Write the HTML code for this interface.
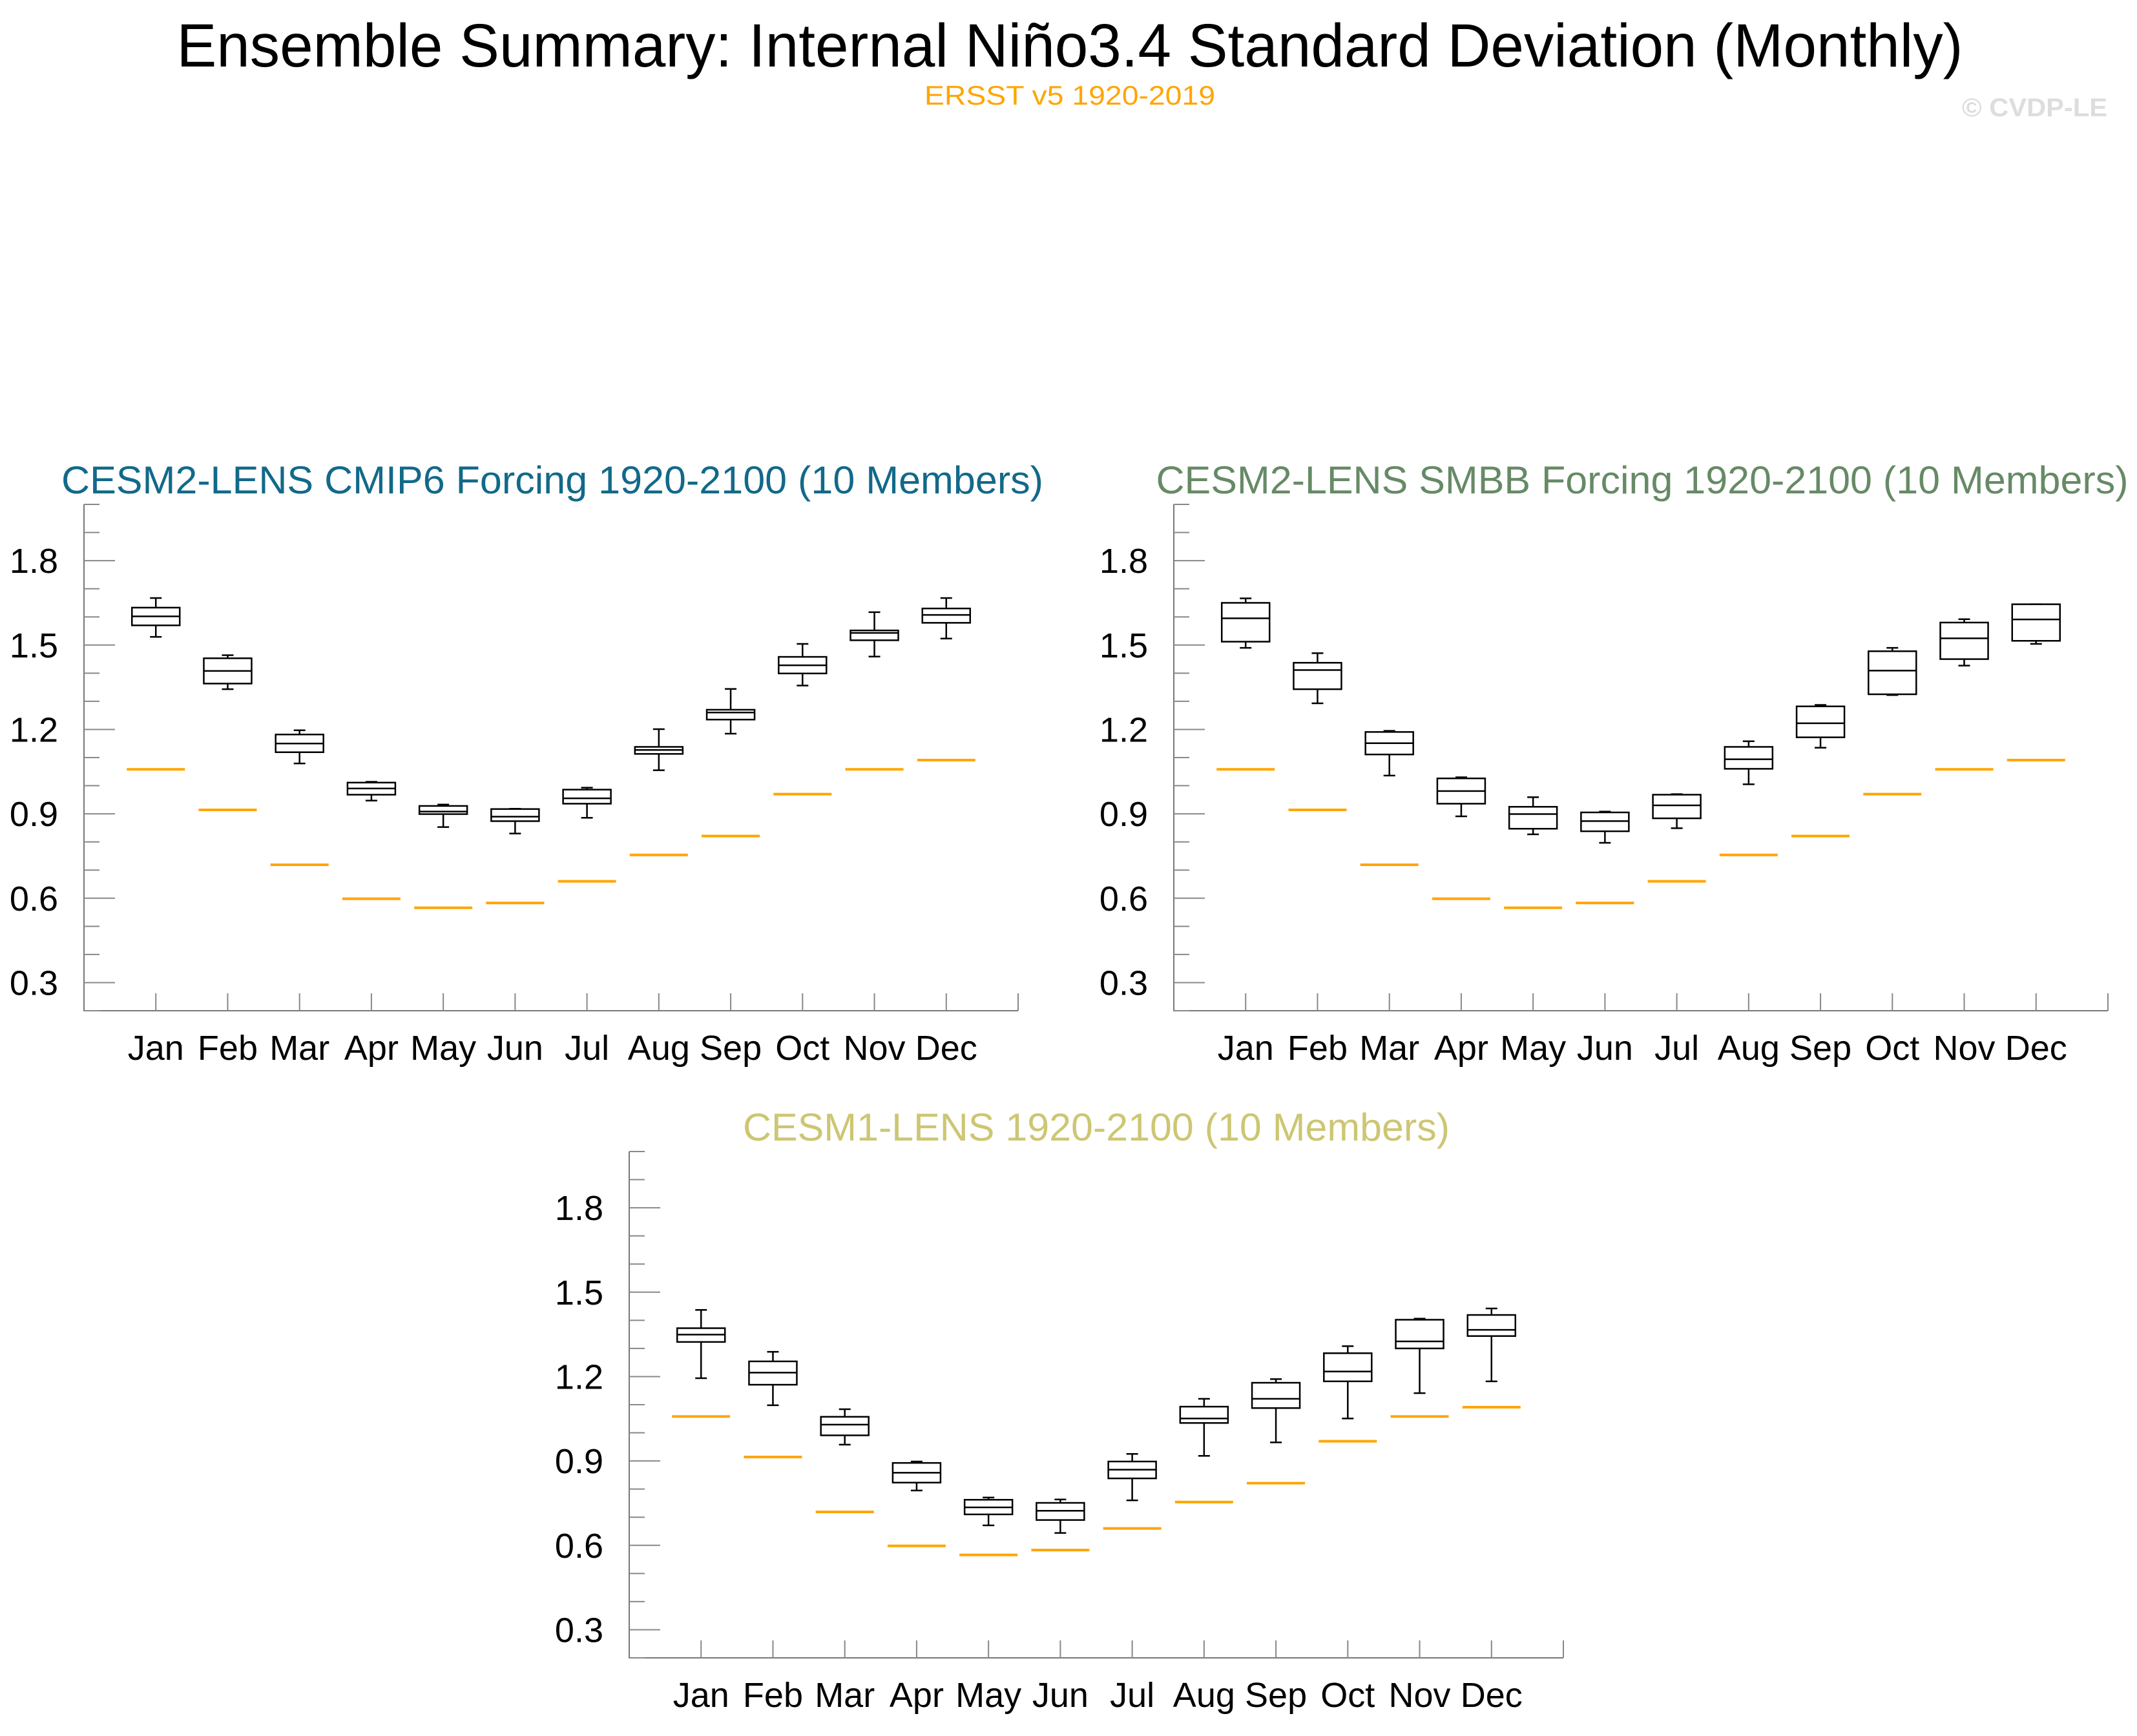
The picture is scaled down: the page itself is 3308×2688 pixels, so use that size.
<!DOCTYPE html>
<html><head><meta charset="utf-8"><style>html,body{margin:0;padding:0;background:#fff}svg{display:block}</style></head>
<body>
<svg id="chart" xmlns="http://www.w3.org/2000/svg" width="3308" height="2688" viewBox="0 0 3308 2688" font-family="'Liberation Sans', sans-serif">
<rect width="3308" height="2688" fill="#fff"/>
<text x="1656" y="103" font-size="95" text-anchor="middle" textLength="2765" lengthAdjust="spacingAndGlyphs">Ensemble Summary: Internal Niño3.4 Standard Deviation (Monthly)</text>
<text x="1656" y="162" font-size="42" fill="#ffa500" text-anchor="middle" textLength="450" lengthAdjust="spacingAndGlyphs">ERSST v5 1920-2019</text>
<text x="3262" y="180" font-size="40" font-weight="bold" fill="#dddddd" text-anchor="end" textLength="225" lengthAdjust="spacingAndGlyphs">© CVDP-LE</text>
<g id="panels"></g>
</svg>
<script>
const months = ["Jan","Feb","Mar","Apr","May","Jun","Jul","Aug","Sep","Oct","Nov","Dec"];
const obsValues = [1.058,0.914,0.719,0.598,0.566,0.583,0.660,0.754,0.821,0.970,1.058,1.091];
const yTickValues = [0.3,0.6,0.9,1.2,1.5,1.8];
const yTickLabels = ["0.3","0.6","0.9","1.2","1.5","1.8"];

const p1WhiskerHigh = [1.667,1.464,1.197,1.014,0.933,0.918,0.993,1.201,1.344,1.504,1.617,1.667];
const p1BoxTop      = [1.633,1.453,1.182,1.011,0.928,0.917,0.986,1.138,1.270,1.458,1.552,1.630];
const p1Median      = [1.602,1.408,1.150,0.990,0.908,0.890,0.955,1.127,1.260,1.428,1.543,1.607];
const p1BoxBottom   = [1.570,1.363,1.119,0.968,0.899,0.874,0.936,1.113,1.235,1.399,1.517,1.579];
const p1WhiskerLow  = [1.529,1.343,1.079,0.947,0.853,0.830,0.886,1.055,1.185,1.356,1.459,1.523];

const p2WhiskerHigh = [1.666,1.471,1.195,1.030,0.959,0.908,0.970,1.158,1.287,1.490,1.592,1.645];
const p2BoxTop      = [1.650,1.437,1.191,1.026,0.925,0.905,0.968,1.138,1.282,1.478,1.580,1.645];
const p2Median      = [1.595,1.411,1.151,0.981,0.899,0.874,0.930,1.094,1.222,1.409,1.524,1.591];
const p2BoxBottom   = [1.512,1.343,1.111,0.936,0.847,0.838,0.884,1.060,1.172,1.325,1.450,1.515];
const p2WhiskerLow  = [1.490,1.293,1.036,0.891,0.827,0.797,0.849,1.005,1.135,1.322,1.427,1.504];

const p3WhiskerHigh = [1.437,1.288,1.084,0.898,0.770,0.763,0.925,1.121,1.191,1.308,1.406,1.442];
const p3BoxTop      = [1.372,1.254,1.057,0.893,0.762,0.751,0.898,1.093,1.178,1.283,1.402,1.419];
const p3Median      = [1.349,1.214,1.029,0.858,0.735,0.723,0.869,1.051,1.121,1.218,1.325,1.366];
const p3BoxBottom   = [1.323,1.171,0.991,0.823,0.710,0.690,0.838,1.035,1.088,1.183,1.300,1.344];
const p3WhiskerLow  = [1.194,1.098,0.958,0.795,0.671,0.644,0.760,0.918,0.966,1.051,1.141,1.183];

const NS = "http://www.w3.org/2000/svg";
const root = document.getElementById("panels");
function mk(tag, attrs, parent){const e=document.createElementNS(NS,tag);for(const k in attrs)e.setAttribute(k,attrs[k]);(parent||root).appendChild(e);return e;}

const panels = [
 {name:"cesm2-cmip6",title:"CESM2-LENS CMIP6 Forcing 1920-2100 (10 Members)",color:"#12698a",left:130,top:781,tl:1520,tx:855,
  wh:p1WhiskerHigh,bt:p1BoxTop,md:p1Median,bb:p1BoxBottom,wl:p1WhiskerLow},
 {name:"cesm2-smbb",title:"CESM2-LENS SMBB Forcing 1920-2100 (10 Members)",color:"#668a66",left:1817,top:781,tl:1505,tx:2542,
  wh:p2WhiskerHigh,bt:p2BoxTop,md:p2Median,bb:p2BoxBottom,wl:p2WhiskerLow},
 {name:"cesm1-lens",title:"CESM1-LENS 1920-2100 (10 Members)",color:"#cdc673",left:974,top:1783,tl:1094,tx:1697,
  wh:p3WhiskerHigh,bt:p3BoxTop,md:p3Median,bb:p3BoxBottom,wl:p3WhiskerLow}
];
const W=1446, H=784, YMIN=0.2, YMAX=2.0;

panels.forEach(p=>{
  const g = mk("g",{});
  
  
  const y = v => p.top + H - (v-YMIN)/(YMAX-YMIN)*H;
  const x = i => p.left + (i+1)*W/13;
  const t = mk("text",{x:p.tx,y:p.top-17,"font-size":60,fill:p.color,"text-anchor":"middle",textLength:p.tl,lengthAdjust:"spacingAndGlyphs"},g);
  t.textContent = p.title;
  
  
  const ax = mk("path",{d:`M${p.left} ${p.top}V${p.top+H}H${p.left+W}`,stroke:"#777",fill:"none","stroke-width":2},g);
  
  
  for(let k=2;k<=20;k++){
    const v=k/10, major = yTickValues.some(tv=>Math.abs(tv-v)<1e-6);
    const tk = mk("line",{x1:p.left,x2:p.left+(major?48:24),y1:y(v),y2:y(v),stroke:"#888","stroke-width":2},g);
    
    
  }
  yTickValues.forEach((v,i)=>{
    const l = mk("text",{x:p.left-40,y:y(v)+19,"font-size":54,"text-anchor":"end"},g);
    l.textContent = yTickLabels[i];
    
    
  });
  for(let i=0;i<13;i++){
    const xx = p.left+(i+1)*W/13;
    const tk = mk("line",{x1:xx,x2:xx,y1:p.top+H-27,y2:p.top+H,stroke:"#888","stroke-width":2},g);
    
    
  }
  months.forEach((m,i)=>{
    const l = mk("text",{x:x(i),y:p.top+H+76,"font-size":54,"text-anchor":"middle"},g);
    l.textContent = m;
    
    
    const cx = x(i), bw=74, cw=18;
    const ob = mk("line",{x1:cx-45,x2:cx+45,y1:y(obsValues[i]),y2:y(obsValues[i]),stroke:"#ffa500","stroke-width":4},g);
    
    
    const bg = mk("g",{stroke:"#000","stroke-width":2.5,fill:"none"},g);
    
    
    mk("line",{x1:cx,x2:cx,y1:y(p.wh[i]),y2:y(p.bt[i])},bg);
    mk("line",{x1:cx,x2:cx,y1:y(p.bb[i]),y2:y(p.wl[i])},bg);
    mk("line",{x1:cx-cw/2,x2:cx+cw/2,y1:y(p.wh[i]),y2:y(p.wh[i])},bg);
    mk("line",{x1:cx-cw/2,x2:cx+cw/2,y1:y(p.wl[i]),y2:y(p.wl[i])},bg);
    mk("rect",{x:cx-bw/2,y:y(p.bt[i]),width:bw,height:Math.max(1,y(p.bb[i])-y(p.bt[i])),fill:"#fff"},bg);
    mk("line",{x1:cx-bw/2,x2:cx+bw/2,y1:y(p.md[i]),y2:y(p.md[i])},bg);
  });
});
</script>
</body></html>
